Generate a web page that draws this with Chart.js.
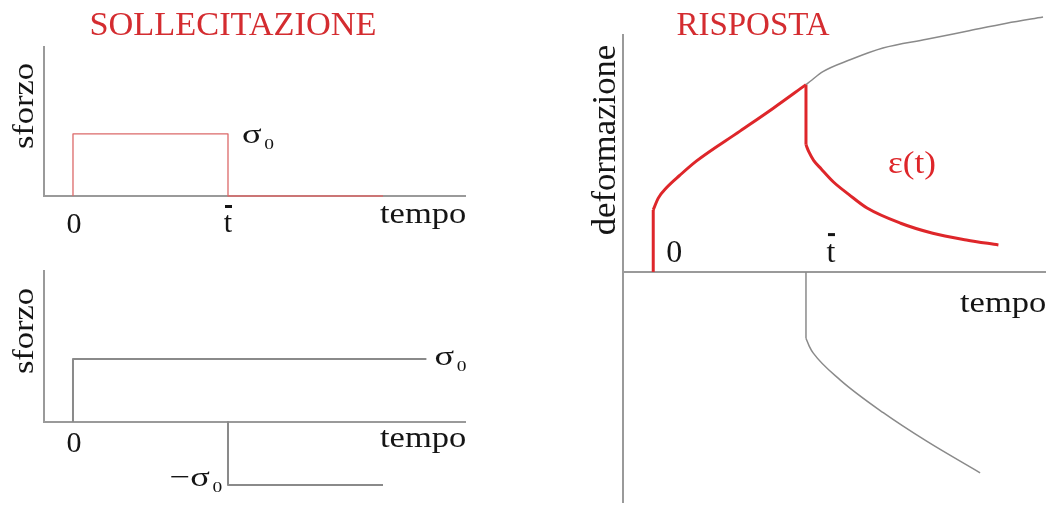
<!DOCTYPE html>
<html>
<head>
<meta charset="utf-8">
<script src="https://cdn.jsdelivr.net/npm/chart.js@4.4.1/dist/chart.umd.min.js"></script>
<style>
  html, body { margin: 0; padding: 0; background: #fff; }
  body { width: 1059px; height: 505px; position: relative; overflow: hidden; }
  canvas { position: absolute; }
</style>
</head>
<body>
<canvas id="load" width="466" height="245" style="left:0;top:0"></canvas>
<canvas id="reverse" width="466" height="260" style="left:0;top:245px"></canvas>
<canvas id="strain" width="466" height="505" style="left:580px;top:0"></canvas>
<script>
// time in units of t-bar, stress in units of sigma0
const loadT = [0, 0, 1, 1, 2];
const loadS = [0, 1, 1, 0, 0];

// sigma0 applied at 0, then -sigma0 superposed at t-bar
const stepUpT = [0, 0, 2.28];
const stepUpS = [0, 1, 1];
const stepDownT = [1, 1, 2];
const stepDownS = [0, -1, -1];

// strain: instant jump, creep, instant recovery, delayed recovery
const strainT = [0, 0, 0.033, 0.088, 0.175, 0.284, 0.568, 0.786, 1.0, 1.0, 1.02, 1.05, 1.10, 1.18, 1.28, 1.40, 1.62, 1.83, 2.05, 2.26];
const strainE = [0, 1.0, 1.19, 1.36, 1.56, 1.79, 2.27, 2.64, 3.02, 2.05, 1.93, 1.80, 1.66, 1.45, 1.25, 1.03, 0.785, 0.624, 0.516, 0.435];

// creep that would go on under sigma0
const creepT = [1.0, 1.026, 1.111, 1.288, 1.504, 1.79, 2.052, 2.314, 2.552];
const creepE = [3.02, 3.07, 3.23, 3.42, 3.61, 3.75, 3.88, 4.01, 4.11];

// response to the -sigma0 step
const backT = [1.0, 1.0, 1.022, 1.048, 1.223, 1.506, 1.79, 2.14];
const backE = [0, -1.07, -1.20, -1.31, -1.74, -2.27, -2.73, -3.24];

const RED = 'rgb(222,38,42)';
const RED_TXT = 'rgb(212,44,48)';
const GREY = '#8a8a8a';
const AXIS = '#9a9a9a';
const INK = '#151515';
const SERIF = '"Liberation Serif", "DejaVu Serif", serif';

const pts = (xs, ys) => xs.map((x, i) => ({ x, y: ys[i] }));

// cut a curve at its vertical jumps so each smooth piece gets its own spline
function pieces(xs, ys, style) {
  const out = [];
  let cur = [{ x: xs[0], y: ys[0] }];
  for (let i = 1; i < xs.length; i++) {
    const p = { x: xs[i], y: ys[i] };
    if (xs[i] === xs[i - 1]) {
      if (cur.length > 1) out.push(cur);
      out.push([cur[cur.length - 1], p]);
      cur = [p];
    } else {
      cur.push(p);
    }
  }
  if (cur.length > 1) out.push(cur);
  return out.map(d => Object.assign({ data: d, clip: false, cubicInterpolationMode: 'monotone' }, style));
}

// labels per canvas: either canvas pixels (px) or next to a data point (at)
const labels = {};

const textPlugin = {
  id: 'texts',
  afterDraw(chart) {
    const { ctx } = chart;
    const sx = chart.scales.x, sy = chart.scales.y;
    for (const it of labels[chart.canvas.id] || []) {
      let x, y;
      if (it.at) {
        x = sx.getPixelForValue(it.at[0]) + (it.dx || 0);
        y = sy.getPixelForValue(it.at[1]) + (it.dy || 0);
      } else {
        x = it.px[0];
        y = it.px[1];
      }
      const size = it.size || 30;
      ctx.save();
      ctx.translate(x, y);
      if (it.rot) ctx.rotate(it.rot);
      ctx.scale(it.sx || 1, 1);
      ctx.fillStyle = it.color || INK;
      ctx.font = size + 'px ' + SERIF;
      ctx.textBaseline = 'alphabetic';
      ctx.textAlign = it.align || 'left';
      ctx.fillText(it.text, 0, 0);
      if (it.sub) {
        const w = ctx.measureText(it.text).width;
        const start = it.align === 'center' ? w / 2 : it.align === 'right' ? 0 : w;
        ctx.font = Math.round(size * 0.55) + 'px ' + SERIF;
        ctx.textAlign = 'left';
        ctx.fillText(it.sub, start + 2, 6);
      }
      if (it.bar) {
        // overbar for t-bar
        ctx.fillRect(-3, -size * 0.9, 7, 3);
      }
      ctx.restore();
    }
  }
};

function axes(xmin, xmax, ymin, ymax) {
  const common = {
    type: 'linear',
    ticks: { display: false },
    grid: { display: false },
    border: { display: true, color: AXIS, width: 2 }
  };
  return {
    x: Object.assign({}, common, { min: xmin, max: xmax, position: { y: 0 } }),
    y: Object.assign({}, common, { min: ymin, max: ymax, position: { x: xmin } })
  };
}

function makeChart(id, datasets, scales, padding, items) {
  labels[id] = items;
  return new Chart(document.getElementById(id), {
    type: 'line',
    data: { datasets },
    options: {
      responsive: false,
      animation: false,
      events: [],
      layout: { padding },
      elements: { point: { radius: 0 }, line: { tension: 0, borderJoinStyle: 'round' } },
      plugins: { legend: { display: false }, tooltip: { enabled: false } },
      scales
    },
    plugins: [textPlugin]
  });
}

// stress pulse
makeChart('load', [
  { data: pts(loadT, loadS), borderColor: 'rgb(220,105,105)', borderWidth: 1.3, clip: false }
], axes(-0.187, 2.529, 0, 2.4), { left: 44, top: 47, right: 1, bottom: 49 }, [
  { text: 'SOLLECITAZIONE', px: [233, 35], size: 33, align: 'center', color: RED_TXT, sx: 1.04 },
  { text: 'sforzo', px: [33, 106], size: 30, align: 'center', rot: -Math.PI / 2, sx: 1.15 },
  { text: '0', at: [0, 0], dx: 1, dy: 37, size: 30, align: 'center' },
  { text: 't', at: [1, 0], dx: 0, dy: 36, size: 30, align: 'center', bar: true },
  { text: 'tempo', at: [2, 0], dx: -3, dy: 27, size: 30, sx: 1.15 },
  { text: 'σ', at: [1, 1], dx: 14, dy: 9, size: 28, sx: 1.3, sub: '0' }
]);

// step up and step down
makeChart('reverse', [
  { data: pts(stepUpT, stepUpS), borderColor: GREY, borderWidth: 2, clip: false },
  { data: pts(stepDownT, stepDownS), borderColor: GREY, borderWidth: 2, clip: false }
], axes(-0.187, 2.529, 0, 2.4), { left: 44, top: 26, right: 1, bottom: 83 }, [
  { text: 'sforzo', px: [33, 86], size: 30, align: 'center', rot: -Math.PI / 2, sx: 1.15 },
  { text: '0', at: [0, 0], dx: 1, dy: 30, size: 30, align: 'center' },
  { text: 'tempo', at: [2, 0], dx: -3, dy: 25, size: 30, sx: 1.15 },
  { text: 'σ', at: [2.28, 1], dx: 8, dy: 6, size: 28, sx: 1.3, sub: '0' },
  { text: '−σ', at: [1, -1], dx: -18, dy: 1, size: 28, sx: 1.3, align: 'right', sub: '0' }
]);

// strain response
makeChart('strain', [
  ...pieces(creepT, creepE, { borderColor: GREY, borderWidth: 1.5 }),
  ...pieces(backT, backE, { borderColor: GREY, borderWidth: 1.5 }),
  ...pieces(strainT, strainE, { borderColor: RED, borderWidth: 3 })
], axes(-0.198, 2.565, -3.71, 3.82), { left: 43, top: 35, right: 1, bottom: 3 }, [
  { text: 'RISPOSTA', px: [173, 35], size: 33, align: 'center', color: RED_TXT },
  { text: 'deformazione', px: [35, 140], size: 33, align: 'center', rot: -Math.PI / 2, sx: 1.05 },
  { text: '0', at: [0, 0], dx: 21, dy: -10, size: 32, align: 'center' },
  { text: 't', at: [1, 0], dx: 25, dy: -10, size: 32, align: 'center', bar: true },
  { text: 'ε(t)', px: [308, 173], size: 32, color: RED, sx: 1.1 },
  { text: 'tempo', px: [380, 312], size: 30, sx: 1.15 }
]);
</script>
</body>
</html>
